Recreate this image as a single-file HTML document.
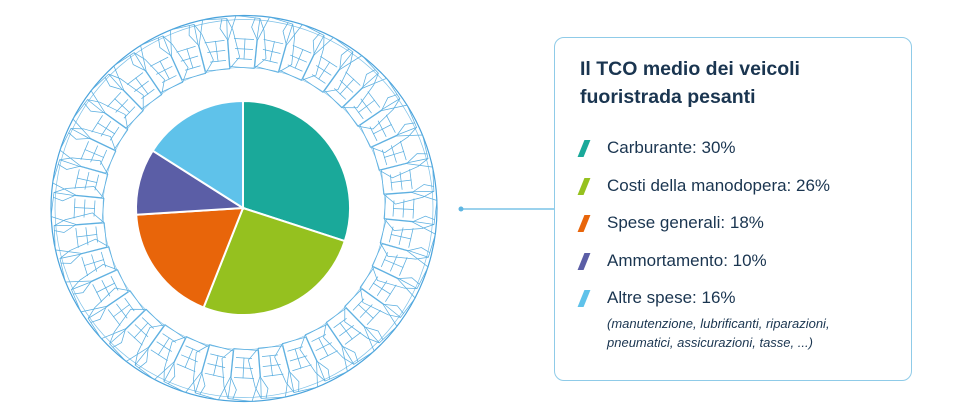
<!DOCTYPE html>
<html><head><meta charset="utf-8"><style>
body{margin:0;width:963px;height:419px;background:#fff;overflow:hidden;position:relative;font-family:"Liberation Sans",sans-serif;}
.box{position:absolute;left:554px;top:37px;width:358px;height:344px;border:1.5px solid #8fcbe8;border-radius:10px;box-sizing:border-box;}
.t{position:absolute;left:580px;color:#1a3550;font-weight:bold;font-size:19.5px;}
.i{position:absolute;left:607px;color:#1a3550;font-size:17px;}
.m{position:absolute;left:581px;width:6px;height:17px;transform:skewX(-22deg);}
.s{position:absolute;left:607px;color:#1a3550;font-size:13px;font-style:italic;}
</style></head><body>
<svg width="963" height="419" style="position:absolute;left:0;top:0">
<defs>
<g id="b" fill="none" stroke="#5aaee0" stroke-width="0.75">
<path d="M-14,-142 L10,-140 L13,-170 L16,-190 L-8,-193 L-16,-168 Z"/>
<path d="M-8,-150 L8,-149 M-9,-160 L9,-159 M-10,-170 L10,-169 M0,-149 L1,-170"/>
<path d="M10,-140 L22,-150 L20,-178 L16,-190 M-16,-168 L-24,-180 L-22,-190"/>
</g>
</defs>
<g transform="translate(244,208.5)">
<circle r="193" fill="none" stroke="#4aa3dc" stroke-width="1.2"/>
<circle r="189" fill="none" stroke="#7cc0e8" stroke-width="0.7"/>
<circle r="141" fill="none" stroke="#7cc0e8" stroke-width="0.6"/>
<use href="#b" transform="rotate(0)"/><use href="#b" transform="rotate(10)"/><use href="#b" transform="rotate(20)"/><use href="#b" transform="rotate(30)"/><use href="#b" transform="rotate(40)"/><use href="#b" transform="rotate(50)"/><use href="#b" transform="rotate(60)"/><use href="#b" transform="rotate(70)"/><use href="#b" transform="rotate(80)"/><use href="#b" transform="rotate(90)"/><use href="#b" transform="rotate(100)"/><use href="#b" transform="rotate(110)"/><use href="#b" transform="rotate(120)"/><use href="#b" transform="rotate(130)"/><use href="#b" transform="rotate(140)"/><use href="#b" transform="rotate(150)"/><use href="#b" transform="rotate(160)"/><use href="#b" transform="rotate(170)"/><use href="#b" transform="rotate(180)"/><use href="#b" transform="rotate(190)"/><use href="#b" transform="rotate(200)"/><use href="#b" transform="rotate(210)"/><use href="#b" transform="rotate(220)"/><use href="#b" transform="rotate(230)"/><use href="#b" transform="rotate(240)"/><use href="#b" transform="rotate(250)"/><use href="#b" transform="rotate(260)"/><use href="#b" transform="rotate(270)"/><use href="#b" transform="rotate(280)"/><use href="#b" transform="rotate(290)"/><use href="#b" transform="rotate(300)"/><use href="#b" transform="rotate(310)"/><use href="#b" transform="rotate(320)"/><use href="#b" transform="rotate(330)"/><use href="#b" transform="rotate(340)"/><use href="#b" transform="rotate(350)"/>
</g>
<g stroke="#fff" stroke-width="2">
<path d="M243,208 L243,101 A107,107 0 0 1 344.8,241.1 Z" fill="#1aa99a"/>
<path d="M243,208 L344.8,241.1 A107,107 0 0 1 203.6,307.5 Z" fill="#95c11f"/>
<path d="M243,208 L203.6,307.5 A107,107 0 0 1 136.2,214.7 Z" fill="#e8650a"/>
<path d="M243,208 L136.2,214.7 A107,107 0 0 1 152.7,150.7 Z" fill="#5b5ea6"/>
<path d="M243,208 L152.7,150.7 A107,107 0 0 1 243,101 Z" fill="#5fc2ea"/>
</g>
<line x1="461" y1="209" x2="554" y2="209" stroke="#5fb6e2" stroke-width="1.2"/>
<circle cx="461" cy="209" r="2.5" fill="#5fb6e2"/>
</svg>
<div class="box"></div>
<div class="t" style="top:58px">Il TCO medio dei veicoli</div>
<div class="t" style="top:86px">fuoristrada pesanti</div>
<div class="m" style="top:140px;background:#1aa99a"></div><div class="i" style="top:138px">Carburante: 30%</div>
<div class="m" style="top:178px;background:#95c11f"></div><div class="i" style="top:176px">Costi della manodopera: 26%</div>
<div class="m" style="top:215px;background:#e8650a"></div><div class="i" style="top:213px">Spese generali: 18%</div>
<div class="m" style="top:253px;background:#5b5ea6"></div><div class="i" style="top:251px">Ammortamento: 10%</div>
<div class="m" style="top:290px;background:#5fc2ea"></div><div class="i" style="top:288px">Altre spese: 16%</div>
<div class="s" style="top:316px">(manutenzione, lubrificanti, riparazioni,</div>
<div class="s" style="top:335px">pneumatici, assicurazioni, tasse, ...)</div>
</body></html>
